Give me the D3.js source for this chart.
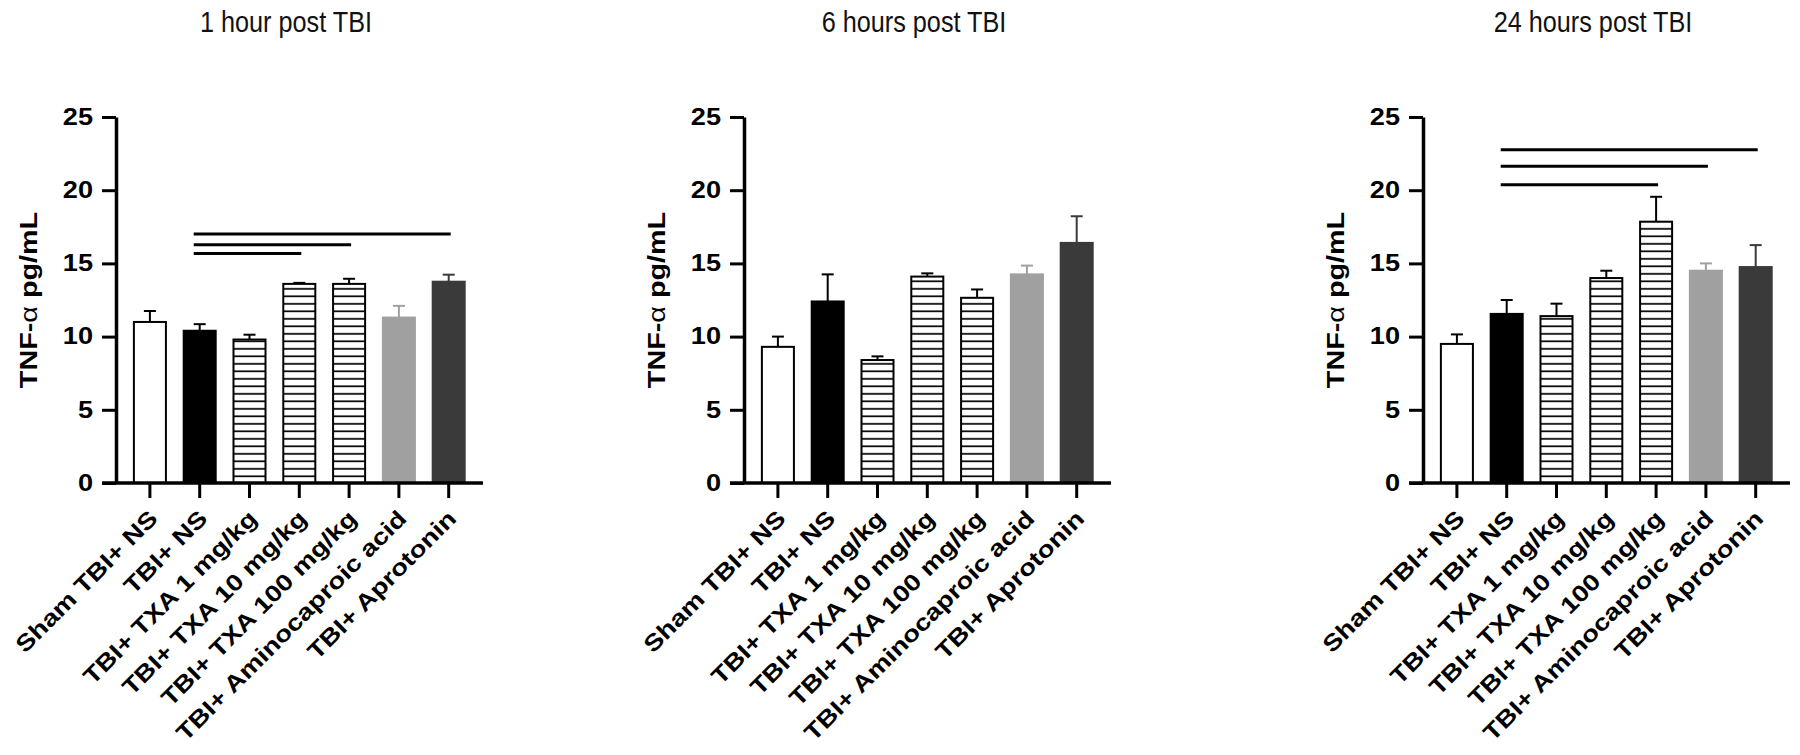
<!DOCTYPE html>
<html>
<head>
<meta charset="utf-8">
<script src="https://cdn.jsdelivr.net/npm/d3@7"></script>
<style>
  body { margin: 0; background: #fff; }
  svg { display: block; font-family: "Liberation Sans", Arial, sans-serif; }
</style>
</head>
<body>
<script>
const groups = ['Sham TBI+ NS', 'TBI+ NS', 'TBI+ TXA 1 mg/kg', 'TBI+ TXA 10 mg/kg',
                'TBI+ TXA 100 mg/kg', 'TBI+ Aminocaproic acid', 'TBI+ Aprotonin'];
const titles = ['1 hour post TBI', '6 hours post TBI', '24 hours post TBI'];
const yTicks = [0, 5, 10, 15, 20, 25];

const mean1h = [11.0, 10.4, 9.8, 13.6, 13.6, 11.3, 13.75];
const sem1h  = [0.75, 0.45, 0.33, 0.07, 0.35, 0.8, 0.48];
const mean6h = [9.3, 12.4, 8.4, 14.1, 12.65, 14.25, 16.4];
const sem6h  = [0.7, 1.85, 0.25, 0.22, 0.57, 0.6, 1.82];
const mean24h = [9.5, 11.55, 11.4, 14.0, 17.85, 14.5, 14.75];
const sem24h  = [0.65, 0.95, 0.85, 0.5, 1.7, 0.5, 1.5];

// significance bars: [from group, to group, height]
const sig1h  = [[1, 3, 15.67], [1, 4, 16.28], [1, 6, 17.0]];
const sig6h  = [];
const sig24h = [[1, 4, 20.37], [1, 5, 21.64], [1, 6, 22.77]];

const panels = [
  { title: titles[0], mean: mean1h, sem: sem1h, sig: sig1h },
  { title: titles[1], mean: mean6h, sem: sem6h, sig: sig6h },
  { title: titles[2], mean: mean24h, sem: sem24h, sig: sig24h }
];

const WIDTH = 1800, HEIGHT = 755;
const PANEL_X = [116, 744, 1423];
const TOP = 117, BOTTOM = 483, AXIS_LEN = 367;

const fills   = ['#fff', '#000', 'url(#hatch)', 'url(#hatch)', 'url(#hatch)', '#a0a0a0', '#3a3a3a'];
const strokes = ['#000', '#000', '#000', '#000', '#000', '#a0a0a0', '#3a3a3a'];
const FONT = '"Liberation Sans", Arial, sans-serif';

const stretch = (sel, k) => sel.each(function () {
  const w = this.getComputedTextLength();
  d3.select(this).attr('textLength', w * k).attr('lengthAdjust', 'spacingAndGlyphs');
});

const svg = d3.select('body').append('svg')
  .attr('width', WIDTH)
  .attr('height', HEIGHT);

svg.append('rect').attr('width', WIDTH).attr('height', HEIGHT).attr('fill', '#fff');

const pat = svg.append('defs').append('pattern')
  .attr('id', 'hatch')
  .attr('patternUnits', 'userSpaceOnUse')
  .attr('width', 10).attr('height', 7.5);
pat.append('rect').attr('width', 10).attr('height', 7.5).attr('fill', '#fff');
pat.append('rect').attr('y', 3).attr('width', 10).attr('height', 1.7).attr('fill', '#000');

panels.forEach((p, i) => {
  const x0 = PANEL_X[i];

  const x = d3.scaleBand()
    .domain(groups)
    .range([x0 + 9, x0 + 357.6])
    .paddingInner(0.357)
    .paddingOuter(0.1785);

  const y = d3.scaleLinear()
    .domain([0, 25])
    .range([BOTTOM, TOP]);

  const g = svg.append('g');

  // title
  g.append('text')
    .attr('x', x0 + 170)
    .attr('y', 32)
    .attr('text-anchor', 'middle')
    .style('font-size', '29px')
    .style('fill', '#111')
    .text(p.title)
    .call(stretch, 0.87);

  // y label
  const yl = g.append('text')
    .attr('transform', `translate(${x0 - 79}, 300) rotate(-90)`)
    .attr('text-anchor', 'middle')
    .style('font-size', '23px')
    .style('font-weight', 'bold');
  yl.append('tspan').text('TNF-');
  yl.append('tspan').style('font-weight', 'normal').text('α');
  yl.append('tspan').text(' pg/mL');
  stretch(yl, 1.25);

  // bars
  g.selectAll('.bar')
    .data(groups)
    .enter().append('rect')
      .attr('class', 'bar')
      .attr('x', (d) => x(d))
      .attr('width', x.bandwidth())
      .attr('y', (d, j) => y(p.mean[j]))
      .attr('height', (d, j) => y(0) - y(p.mean[j]))
      .attr('fill', (d, j) => fills[j])
      .attr('stroke', (d, j) => strokes[j])
      .attr('stroke-width', 2);

  // error bars (upper only)
  const err = g.selectAll('.err')
    .data(groups)
    .enter().append('g')
      .attr('class', 'err')
      .attr('stroke', (d, j) => strokes[j])
      .attr('stroke-width', 2);
  err.append('line')
    .attr('x1', (d) => x(d) + x.bandwidth() / 2)
    .attr('x2', (d) => x(d) + x.bandwidth() / 2)
    .attr('y1', (d, j) => y(p.mean[j]))
    .attr('y2', (d, j) => y(p.mean[j] + p.sem[j]));
  err.append('line')
    .attr('x1', (d) => x(d) + x.bandwidth() / 2 - 6)
    .attr('x2', (d) => x(d) + x.bandwidth() / 2 + 6)
    .attr('y1', (d, j) => y(p.mean[j] + p.sem[j]))
    .attr('y2', (d, j) => y(p.mean[j] + p.sem[j]));

  // significance lines
  g.selectAll('.sig')
    .data(p.sig)
    .enter().append('line')
      .attr('class', 'sig')
      .attr('x1', (d) => x(groups[d[0]]) + x.bandwidth() / 2 - 6)
      .attr('x2', (d) => x(groups[d[1]]) + x.bandwidth() / 2 + 2)
      .attr('y1', (d) => y(d[2]))
      .attr('y2', (d) => y(d[2]))
      .attr('stroke', '#000')
      .attr('stroke-width', 3);

  // y axis
  const ya = g.append('g')
    .attr('transform', `translate(${x0}, 0)`)
    .call(d3.axisLeft(y).tickValues(yTicks).tickSize(14).tickSizeOuter(0).tickPadding(9));
  ya.select('.domain').attr('stroke-width', 3.5);
  ya.selectAll('.tick line').attr('stroke-width', 3);
  ya.selectAll('.tick text')
    .style('font-family', FONT)
    .style('font-size', '23px')
    .style('font-weight', 'bold')
    .attr('fill', '#000')
    .call(stretch, 1.18);

  // x axis
  g.append('line')
    .attr('x1', x0 - 14)
    .attr('x2', x0 + AXIS_LEN)
    .attr('y1', y(0))
    .attr('y2', y(0))
    .attr('stroke', '#000')
    .attr('stroke-width', 3.5);

  const xa = g.append('g')
    .attr('transform', `translate(0, ${y(0)})`)
    .call(d3.axisBottom(x).tickSize(15).tickSizeOuter(0));
  xa.select('.domain').remove();
  xa.selectAll('.tick line').attr('stroke-width', 3);
  xa.selectAll('.tick text')
    .attr('y', null)
    .attr('dy', null)
    .attr('text-anchor', 'end')
    .attr('transform', 'translate(9, 37) rotate(-45)')
    .style('font-family', FONT)
    .style('font-size', '23px')
    .style('font-weight', 'bold')
    .attr('fill', '#000')
    .call(stretch, 1.2);
});
</script>
</body>
</html>
